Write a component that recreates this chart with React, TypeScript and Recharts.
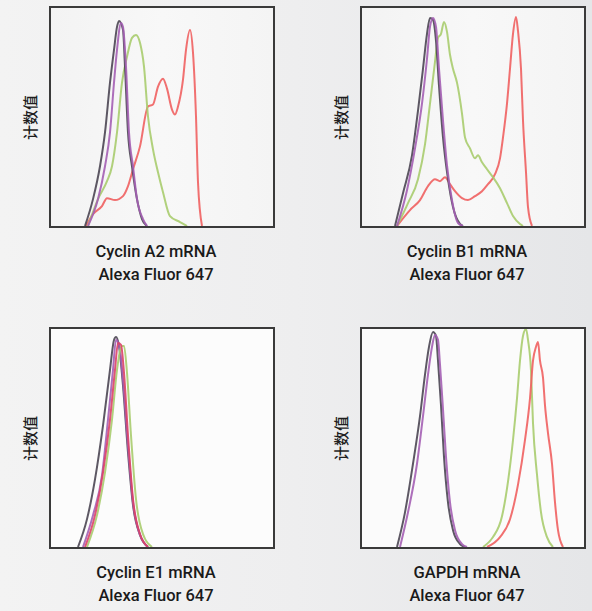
import React from "react";
import { LineChart, Line, XAxis, YAxis } from "recharts";

// Fluorescence channel (0-224) vs. count (0-220)
const a2Black: [number, number][] = [[35,0],[43,27],[50,60],[55,94],[60,144],[64,177],[67,200],[69,206],[73,197],[75,160],[78,94],[82,60],[87,27],[92,7],[97,0]];
const a2Purple: [number, number][] = [[38,0],[48,27],[55,60],[60,94],[64,144],[67,177],[71,204],[73,200],[76,160],[79,94],[83,60],[87,27],[93,7],[97,0]];
const a2Green: [number, number][] = [[38,0],[48,27],[57,45],[62,60],[67,94],[72,144],[77,170],[82,189],[86,192],[90,184],[94,160],[98,110],[103,77],[108,54],[113,34],[120,10],[130,4],[137,0]];
const a2Red: [number, number][] = [[36,0],[43,12],[52,20],[57,28],[65,26],[73,30],[78,40],[83,57],[90,80],[98,120],[103,122],[108,140],[113,148],[117,138],[122,117],[125,112],[128,120],[133,147],[136,177],[140,197],[143,174],[146,110],[148,44],[152,0]];

const b1Black: [number, number][] = [[34,0],[42,33],[51,71],[57,116],[62,158],[66,193],[69,209],[72,207],[75,186],[78,141],[82,89],[87,47],[92,19],[99,2],[102,0]];
const b1Purple: [number, number][] = [[36,0],[46,36],[54,78],[61,123],[66,168],[69,200],[72,209],[75,200],[78,158],[82,106],[86,61],[91,26],[97,3],[102,0]];
const b1Green: [number, number][] = [[36,0],[47,23],[57,47],[64,82],[69,123],[74,165],[77,189],[80,193],[83,205],[86,195],[89,172],[92,158],[96,144],[101,113],[104,89],[109,78],[114,68],[117,71],[121,64],[126,57],[132,49],[139,38],[146,23],[152,10],[159,2],[162,0]];
const b1Red: [number, number][] = [[36,0],[49,16],[59,26],[67,40],[74,47],[79,45],[84,49],[89,42],[94,35],[101,28],[107,26],[114,30],[121,35],[127,42],[134,52],[139,68],[142,89],[146,123],[149,158],[152,193],[155,210],[157,196],[160,158],[162,106],[165,54],[167,19],[171,0]];

const e1Black: [number, number][] = [[28,0],[37,28],[45,68],[53,122],[60,178],[64,208],[66,211],[69,202],[73,162],[78,95],[83,42],[90,12],[98,0]];
const e1Purple: [number, number][] = [[33,0],[43,32],[52,72],[58,128],[63,178],[66,208],[69,203],[73,168],[78,102],[83,45],[90,12],[98,0]];
const e1Green: [number, number][] = [[37,0],[47,32],[55,75],[62,128],[67,178],[72,202],[74,202],[77,175],[81,112],[86,48],[93,13],[102,0]];
const e1Red: [number, number][] = [[35,0],[45,32],[53,75],[60,128],[65,178],[68,205],[71,203],[74,175],[78,112],[83,48],[90,13],[98,0]];

const gBlack: [number, number][] = [[36,0],[44,35],[52,84],[59,132],[64,174],[68,202],[72,217],[75,213],[77,188],[80,143],[83,91],[87,45],[92,17],[99,3],[104,0]];
const gPurple: [number, number][] = [[39,0],[47,35],[56,84],[62,132],[67,174],[71,202],[74,214],[77,209],[79,184],[82,139],[85,91],[89,45],[94,17],[101,3],[106,0]];
const gGreen: [number, number][] = [[122,0],[132,10],[141,31],[147,66],[152,108],[156,150],[159,188],[162,213],[165,220],[167,209],[170,178],[172,125],[176,73],[180,35],[186,10],[192,0]];
const gRed: [number, number][] = [[126,0],[139,10],[149,28],[157,63],[164,108],[169,150],[172,188],[175,202],[177,207],[179,188],[182,171],[184,143],[187,115],[191,84],[194,45],[197,17],[202,0]];

const titles = ["Cyclin A2 mRNA", "Cyclin B1 mRNA", "Cyclin E1 mRNA", "GAPDH mRNA"];
const subtitle = "Alexa Fluor 647";
const yLabel = "计数值";

const BLACK = "#4b4653";
const PURPLE = "#a45fb4";
const GREEN = "#a9cc6e";
const RED = "#ef6160";

type Series = { pts: [number, number][]; color: string };

const panels: { title: string; series: Series[]; left: number; top: number; bg: string }[] = [
  { title: titles[0], left: 49, top: 6, bg: "linear-gradient(to right, #f3f3f3, #f8f8f8 50%, #f4f4f4)", series: [
    { pts: a2Red, color: RED }, { pts: a2Green, color: GREEN }, { pts: a2Black, color: BLACK }, { pts: a2Purple, color: PURPLE } ] },
  { title: titles[1], left: 360, top: 6, bg: "linear-gradient(to right, #f3f3f3, #f8f8f8 50%, #f4f4f4)", series: [
    { pts: b1Red, color: RED }, { pts: b1Green, color: GREEN }, { pts: b1Black, color: BLACK }, { pts: b1Purple, color: PURPLE } ] },
  { title: titles[2], left: 49, top: 327, bg: "#fcfcfc", series: [
    { pts: e1Black, color: BLACK }, { pts: e1Purple, color: PURPLE }, { pts: e1Green, color: GREEN }, { pts: e1Red, color: "#dc4268" } ] },
  { title: titles[3], left: 360, top: 327, bg: "#fbfbfb", series: [
    { pts: gBlack, color: BLACK }, { pts: gPurple, color: PURPLE }, { pts: gGreen, color: GREEN }, { pts: gRed, color: RED } ] },
];

// inner plotting area (outer box = inner + 2px border on each side)
const W = 222;
const H = 218;

function Panel({ p }: { p: typeof panels[number] }) {
  return (
    <>
      <div style={{ position: "absolute", left: p.left, top: p.top, width: W, height: H, border: "2px solid #3a3a3a", background: p.bg }}>
        <LineChart width={W} height={H} margin={{ top: 0, right: 0, bottom: 0, left: 0 }}>
          <XAxis type="number" dataKey="x" domain={[1, 223]} hide allowDuplicatedCategory={false} />
          <YAxis type="number" domain={[1, 219]} hide />
          {p.series.map((s, i) => (
            <Line key={i} data={s.pts.map(([x, y]) => ({ x, y }))} dataKey="y" type="monotone" stroke={s.color} strokeWidth={2} strokeOpacity={0.9} dot={false} isAnimationActive={false} />
          ))}
        </LineChart>
      </div>
      <div style={{ position: "absolute", left: p.left - 40, top: p.top, width: 40, height: H + 4, display: "flex", alignItems: "center", justifyContent: "center" }}>
        <div style={{ transform: "rotate(-90deg)", fontFamily: "'Noto Sans CJK SC', sans-serif", fontWeight: 500, fontSize: 15, color: "#1e1e1e", whiteSpace: "nowrap" }}>{yLabel}</div>
      </div>
      <div style={{ position: "absolute", left: p.left - 60 - 6, top: p.top + H + 16, width: W + 124, textAlign: "center", fontFamily: "Roboto, 'Liberation Sans', Arial, sans-serif", fontWeight: 500, fontSize: 16.5, lineHeight: "23px", color: "#1a1a1a" }}>
        <div>{p.title}</div>
        <div>{subtitle}</div>
      </div>
    </>
  );
}

export default function App() {
  return (
    <div style={{ position: "absolute", left: 0, top: 0, width: 592, height: 611, overflow: "hidden", background: "linear-gradient(to right, #f3f3f3, #eeeeef 50%, #e5e6e8)" }}>
      {panels.map((p, i) => <Panel key={i} p={p} />)}
    </div>
  );
}
